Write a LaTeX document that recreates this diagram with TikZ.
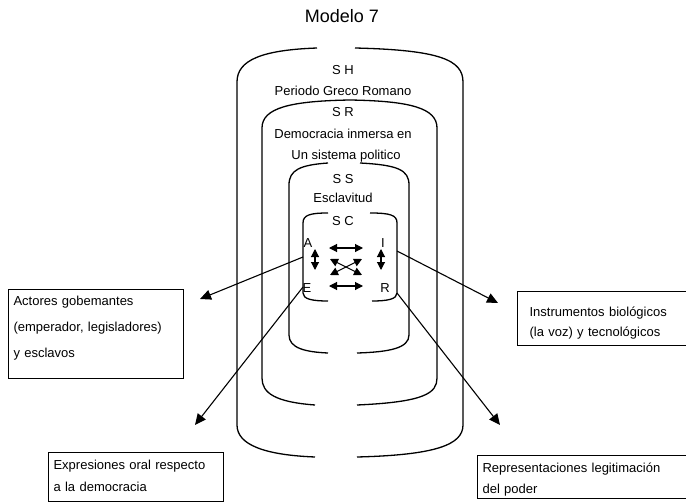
\documentclass[tikz,border=0pt]{standalone}
\usepackage{fontspec}
\setmainfont{Liberation Sans}
\usetikzlibrary{arrows.meta}

\begin{document}
\begin{tikzpicture}[x=1pt,y=-1pt,
  shell/.style={line width=1.3pt},
  conn/.style={line width=1.1pt,-{Triangle[length=11pt,width=10pt]}},
  rel/.style={line width=1.1pt,{Triangle[length=8pt,width=8pt]}-{Triangle[length=8pt,width=8pt]}},
  lbl/.style={font=\fontsize{13}{15}\selectfont,inner sep=0pt},
  box/.style={draw,line width=1.1pt,anchor=north west,align=left,inner ysep=0pt,font=\fontsize{13}{#1}\selectfont}]
  \useasboundingbox (0,0) rectangle (686,503);
  \node[font=\fontsize{18}{20}\selectfont] (title) at (342,16) {Modelo 7};
  %shells
  \draw[shell] (317,48) .. controls (262,50) and (237,60) .. (237,82) -- (237,425) .. controls (237,445) and (265,455) .. (315,457);
  \draw[shell] (355,48) .. controls (440,50) and (463,60) .. (463,82) -- (463,425) .. controls (463,445) and (435,455) .. (357,457);
  \draw[shell] (315,405) .. controls (275,402) and (262,393) .. (262,378) -- (262,128) .. controls (262,108) and (290,101) .. (350,100) .. controls (410,101) and (437,108) .. (437,128) -- (437,378) .. controls (437,393) and (425,402) .. (357,405);
  \draw[shell] (328,163) .. controls (300,165) and (289,170) .. (289,185) -- (289,335) .. controls (289,348) and (305,352) .. (328,353);
  \draw[shell] (360,163) .. controls (398,165) and (409,170) .. (409,185) -- (409,335) .. controls (409,348) and (390,352) .. (357,353);
  \draw[shell] (328,213) .. controls (310,213) and (303,215) .. (303,223) -- (303,293) .. controls (303,299) and (312,301) .. (328,301);
  \draw[shell] (370,213) .. controls (390,213) and (397,215) .. (397,223) -- (397,293) .. controls (397,299) and (388,301) .. (372,301);
  %levels
  \node[lbl] (sh) at (343,70) {S H};
  \node[lbl] (shtxt) at (343,91) {Periodo Greco Romano};
  \node[lbl] (sr) at (343,112) {S R};
  \node[lbl] (srtxt) at (343,134) {Democracia inmersa en};
  \node[lbl] (srtxtb) at (346,156) {Un sistema politico};
  \node[lbl] (ss) at (343,179) {S S};
  \node[lbl] (sstxt) at (343,198) {Esclavitud};
  \node[lbl] (sc) at (343,221) {S C};
  \node[lbl] (lA) at (308,243) {A};
  \node[lbl] (lI) at (383,243) {I};
  \node[lbl] (lE) at (307,288) {E};
  \node[lbl] (lR) at (385,288) {R};
  %relations
  \coordinate (hA) at (329,248); \coordinate (hI) at (363,248);
  \coordinate (hE) at (329,286); \coordinate (hR) at (363,286);
  \coordinate (vA) at (315,249); \coordinate (vE) at (315,270);
  \coordinate (vI) at (381,249); \coordinate (vR) at (381,270);
  \coordinate (dA) at (330,259); \coordinate (dR) at (362,275);
  \coordinate (dE) at (330,275); \coordinate (dI) at (362,259);
  \draw[rel] (hA) -- (hI);
  \draw[rel] (hE) -- (hR);
  \draw[rel] (vA) -- (vE);
  \draw[rel] (vI) -- (vR);
  \draw[rel] (dA) -- (dR);
  \draw[rel] (dE) -- (dI);
  %boxes
  \node[box=26,inner xsep=5pt,text width=165pt,text height=15.5pt,text depth=73.5pt] (actores) at (8,289) {Actores gobemantes\\(emperador, legisladores)\\y esclavos};
  \node[box=20.5,inner xsep=12pt,text width=159pt,text height=24.5pt,text depth=29.5pt] (instrumentos) at (517,291) {Instrumentos biológicos\\(la voz) y tecnológicos};
  \node[box=22,inner xsep=5pt,text width=165pt,text height=16.5pt,text depth=32.5pt] (expresiones) at (48,452) {Expresiones oral respecto\\a la democracia};
  \node[box=21,inner xsep=5pt,text width=213pt,text height=16.5pt,text depth=26.5pt] (representaciones) at (477,455) {Representaciones legitimación\\del poder};
  %connectors
  \coordinate (outA) at (303,257); \coordinate (tipA) at (200,299);
  \coordinate (outI) at (397,251); \coordinate (tipI) at (498,303);
  \coordinate (outE) at (303,287); \coordinate (tipE) at (195,425);
  \coordinate (outR) at (397,293); \coordinate (tipR) at (500,425);
  \draw[conn] (outA) -- (tipA);
  \draw[conn] (outI) -- (tipI);
  \draw[conn] (outE) -- (tipE);
  \draw[conn] (outR) -- (tipR);
\end{tikzpicture}
\end{document}
